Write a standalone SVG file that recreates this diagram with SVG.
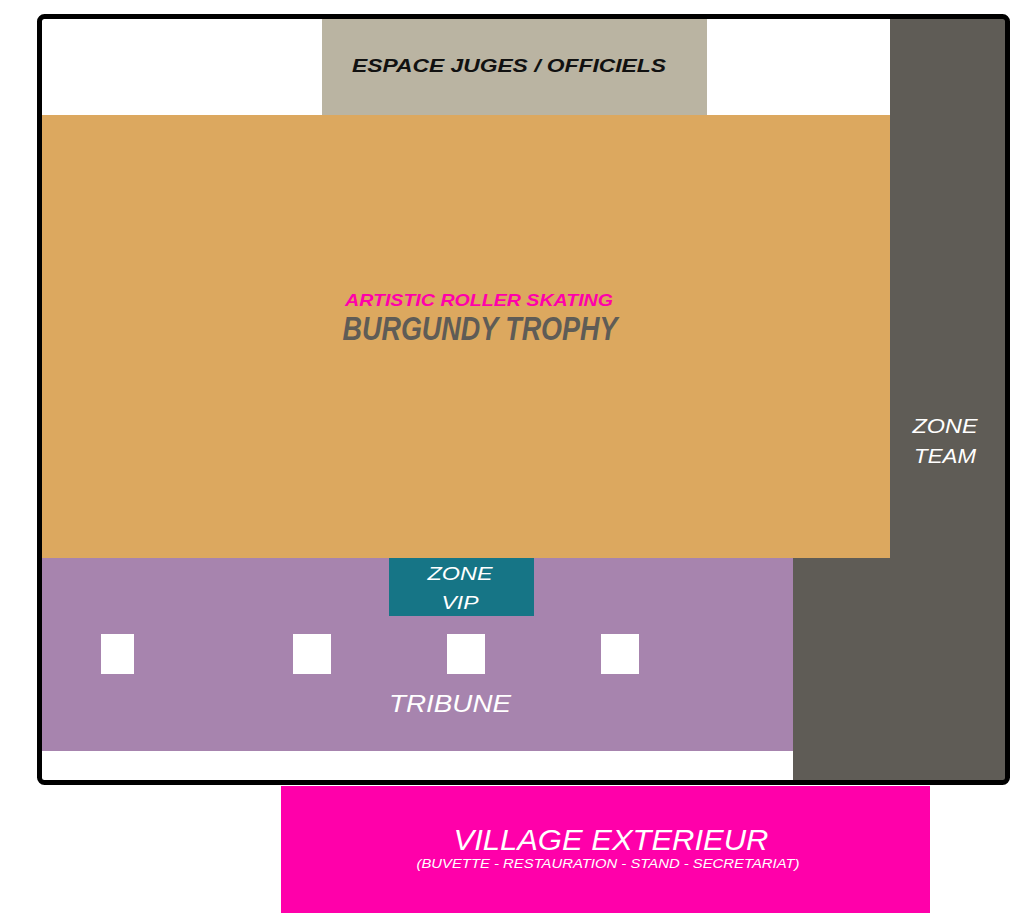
<svg xmlns="http://www.w3.org/2000/svg" width="1024" height="924" viewBox="0 0 1024 924">
<style>
.lbl{font-family:"Liberation Sans","DejaVu Sans",sans-serif;font-style:italic;text-anchor:middle}
.w{fill:#ffffff}
.seat{fill:#ffffff}
</style>
<rect x="0" y="0" width="1024" height="924" fill="#ffffff"/>
<g id="judges">
<rect x="322" y="19" width="385" height="96" fill="#bab4a2"/>
<text class="lbl" x="509" y="72" font-size="19" font-weight="bold" fill="#111111" textLength="314" lengthAdjust="spacingAndGlyphs">ESPACE JUGES / OFFICIELS</text>
</g>
<g id="piste">
<rect x="42" y="115" width="848" height="443" fill="#dca85f"/>
<text class="lbl" x="479" y="306" font-size="17" font-weight="bold" fill="#ff00aa" textLength="268" lengthAdjust="spacingAndGlyphs">ARTISTIC ROLLER SKATING</text>
<text class="lbl" x="480" y="340" font-size="33" font-weight="bold" fill="#5f5c56" textLength="275" lengthAdjust="spacingAndGlyphs">BURGUNDY TROPHY</text>
</g>
<g id="zone-team">
<path d="M890 19 H1006 V780 H793 V558 H890 Z" fill="#5f5c56"/>
<text class="lbl w" x="945" y="433" font-size="20" textLength="65" lengthAdjust="spacingAndGlyphs">ZONE</text>
<text class="lbl w" x="945" y="463" font-size="20" textLength="62" lengthAdjust="spacingAndGlyphs">TEAM</text>
</g>
<g id="tribune">
<rect x="42" y="558" width="751" height="193" fill="#a784ae"/>
<rect class="seat" x="101" y="634" width="33" height="40"/>
<rect class="seat" x="293" y="634" width="38" height="40"/>
<rect class="seat" x="447" y="634" width="38" height="40"/>
<rect class="seat" x="601" y="634" width="38" height="40"/>
<text class="lbl w" x="450" y="712" font-size="24" textLength="122" lengthAdjust="spacingAndGlyphs">TRIBUNE</text>
</g>
<g id="zone-vip">
<rect x="389" y="558" width="145" height="58" fill="#167586"/>
<text class="lbl w" x="460" y="580" font-size="19" textLength="65" lengthAdjust="spacingAndGlyphs">ZONE</text>
<text class="lbl w" x="460" y="609" font-size="19" textLength="37" lengthAdjust="spacingAndGlyphs">VIP</text>
</g>
<g id="frame">
<rect x="39.5" y="16.5" width="968" height="766" rx="5" fill="none" stroke="#000000" stroke-width="5"/>
</g>
<g id="village">
<rect x="281" y="786" width="649" height="127" fill="#ff00aa"/>
<text class="lbl w" x="611" y="850" font-size="30" textLength="315" lengthAdjust="spacingAndGlyphs">VILLAGE EXTERIEUR</text>
<text class="lbl w" x="608" y="868" font-size="13" textLength="383" lengthAdjust="spacingAndGlyphs">(BUVETTE - RESTAURATION - STAND - SECRETARIAT)</text>
</g>
<g id="connectors"></g>
</svg>
